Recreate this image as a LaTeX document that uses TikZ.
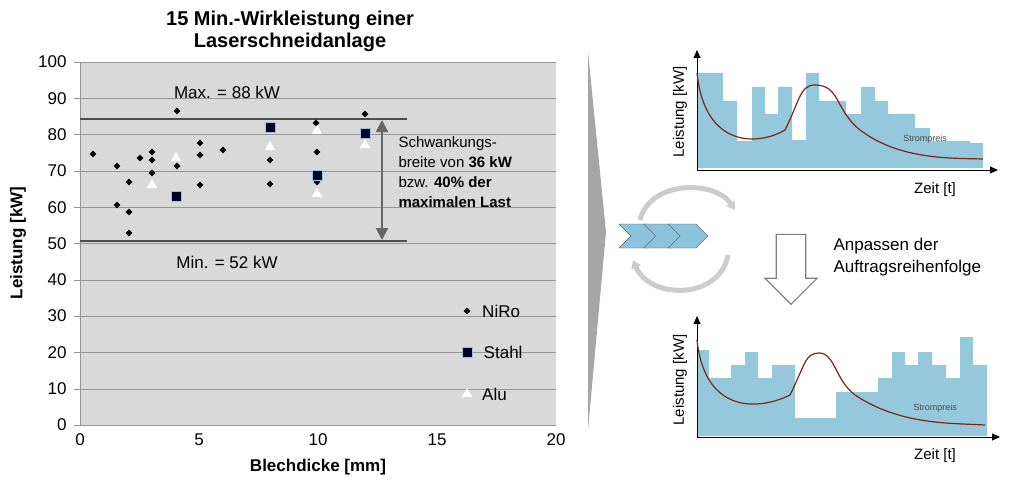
\documentclass[tikz,border=0pt]{standalone}
\usepackage{fontspec}
\setmainfont{Liberation Sans}
\usepackage{tikz}
\usetikzlibrary{arrows.meta,shapes.geometric,shapes.symbols,shapes.arrows,positioning}
\definecolor{plotgray}{RGB}{217,217,217}
\definecolor{gridgray}{RGB}{150,150,150}
\definecolor{barblue}{RGB}{150,200,220}
\definecolor{pricebrown}{RGB}{120,40,20}
\definecolor{chevblue}{RGB}{140,195,220}
\tikzset{
  niro/.style={diamond,fill=black,inner sep=0pt,minimum size=7pt},
  stahl/.style={rectangle,fill=black!85!blue,draw=barblue,inner sep=0pt,minimum size=10pt},
  alu/.style={isosceles triangle,isosceles triangle apex angle=60,shape border rotate=90,fill=white,inner sep=0pt,minimum size=9pt},
  tick/.style={font=\fontsize{17}{17}\selectfont},
  chev/.style={signal,signal to=east,signal from=west,fill=chevblue,draw=gray!70!black,minimum width=40pt,minimum height=24pt,inner sep=0pt},
  cyc/.style={-{Triangle[width=10pt,length=8pt]},line width=5pt,draw=gray!40}
}
\begin{document}
\begin{tikzpicture}[x=1pt,y=-1pt]
  \useasboundingbox (0,0) rectangle (1024,492);
  % scatter chart
  \fill[plotgray] (80,62) rectangle (556,425);
  \foreach \v in {0,10,...,100}
    \draw[gridgray] (74,{425-3.63*\v}) -- (556,{425-3.63*\v});
  \foreach \v in {0,10,...,100}
    \node[tick,anchor=east] at (70,{425-3.63*\v}) {\v};
  \foreach \v in {0,5,10,15,20}
    \node[tick,anchor=north] at ({80+23.8*\v},430) {\v};
  \draw[gridgray] (80,62) -- (80,425);
  \node[font=\bfseries\fontsize{20}{22}\selectfont,align=center] (title) at (290,31) {15 Min.-Wirkleistung einer\\Laserschneidanlage};
  \node[font=\bfseries\fontsize{17}{17}\selectfont] (xlab) at (318,467) {Blechdicke [mm]};
  \node[font=\bfseries\fontsize{17}{17}\selectfont,rotate=90] (ylab) at (18,243) {Leistung [kW]};
  % max / min
  \coordinate (maxl) at (80,119);
  \coordinate (maxr) at (407,119);
  \coordinate (minl) at (80,241);
  \coordinate (minr) at (407,241);
  \draw[black!70,line width=1.5pt] (maxl) -- (maxr);
  \draw[black!70,line width=1.5pt] (minl) -- (minr);
  \node[tick] (maxt) at (227,92) {Max. = 88 kW};
  \node[tick] (mint) at (227,262) {Min. = 52 kW};
  \coordinate (ar1) at (382,120);
  \coordinate (ar2) at (382,240);
  \draw[{Triangle[width=12pt,length=12pt]}-{Triangle[width=12pt,length=12pt]},black!60,line width=2pt] (ar1) -- (ar2);
  \node[anchor=west,align=left,font=\fontsize{15}{20}\selectfont] (schw) at (395,172)
    {Schwankungs-\\breite von \textbf{36 kW}\\bzw. \textbf{40\% der}\\\textbf{maximalen Last}};
  % data
  \foreach \x/\y in {93/154,117/166,129/182,140/158,152/152,152/160,152/173,177/111,200/143,200/155,200/185,
      223/150,270/160,270/184,117/205,129/212,129/233,316/123,317/152,317/182,365/114,177/166}
    \node[niro] at (\x,\y) {};
  \foreach \x/\y in {152/185,176/158,270/147,317/131,317/194,365/145}
    \node[alu] at (\x,\y) {};
  \foreach \x/\y in {176/196,270/127,317/175,365/133}
    \node[stahl] at (\x,\y) {};
  % legend
  \node[niro] (ln) at (467,311) {};
  \node[tick,right=8pt of ln] {NiRo};
  \node[stahl] (ls) at (467,352) {};
  \node[tick,right=8pt of ls] {Stahl};
  \node[alu] (la) at (467,394) {};
  \node[tick,right=8pt of la] {Alu};
  % divider
  \fill[gray!70] (588,52) -- (606,232) -- (588,430) -- cycle;
  % top chart
  \fill[barblue] (697,168) -- (697,73) -- (723,73) -- (723,101) -- (737,101) -- (737,141) -- (752,141)
    -- (752,87) -- (765,87) -- (765,114) -- (778,114) -- (778,87) -- (792,87) -- (792,140) -- (806,140)
    -- (806,73) -- (819,73) -- (819,101) -- (846,101) -- (846,114) -- (861,114) -- (861,87) -- (875,87)
    -- (875,101) -- (888,101) -- (888,114) -- (915,114) -- (915,128) -- (930,128) -- (930,141)
    -- (970,141) -- (970,143) -- (983,143) -- (983,168) -- cycle;
  \coordinate (o1) at (697,170);
  \coordinate (y1) at (697,50);
  \coordinate (x1) at (998,170);
  \draw[-{Triangle[width=7pt,length=8pt]},thick] (o1) -- (y1);
  \draw[-{Triangle[width=7pt,length=8pt]},thick] (o1) -- (x1);
  \draw[pricebrown,line width=1.2pt] (697,73) .. controls (705,150) and (760,145) .. (785,130)
    .. controls (800,100) and (800,85) .. (815,85) .. controls (840,85) and (835,110) .. (860,130)
    .. controls (900,160) and (950,158) .. (983,159);
  \node[font=\fontsize{9}{9}\selectfont,text=black!70] (sp1) at (925,139) {Strompreis};
  \node[rotate=90,font=\fontsize{15}{15}\selectfont] (yl1) at (680,112) {Leistung [kW]};
  \node[font=\fontsize{15}{15}\selectfont] (xl1) at (935,190) {Zeit [t]};
  % bottom chart
  \fill[barblue] (697,436) -- (697,350) -- (709,350) -- (709,378) -- (731,378) -- (731,365) -- (745,365)
    -- (745,352) -- (758,352) -- (758,378) -- (772,378) -- (772,365) -- (795,365) -- (795,418)
    -- (836,418) -- (836,392) -- (878,392) -- (878,378) -- (892,378) -- (892,352) -- (905,352)
    -- (905,365) -- (918,365) -- (918,352) -- (932,352) -- (932,365) -- (946,365) -- (946,378)
    -- (960,378) -- (960,337) -- (973,337) -- (973,365) -- (987,365) -- (987,436) -- cycle;
  \coordinate (o2) at (697,437);
  \coordinate (y2) at (697,316);
  \coordinate (x2) at (1000,437);
  \draw[-{Triangle[width=7pt,length=8pt]},thick] (o2) -- (y2);
  \draw[-{Triangle[width=7pt,length=8pt]},thick] (o2) -- (x2);
  \draw[pricebrown,line width=1.2pt] (697,340) .. controls (705,415) and (760,410) .. (790,395)
    .. controls (805,365) and (805,353) .. (819,353) .. controls (835,353) and (835,380) .. (855,395)
    .. controls (900,425) and (950,423) .. (985,425);
  \node[font=\fontsize{9}{9}\selectfont,text=black!70] (sp2) at (935,408) {Strompreis};
  \node[rotate=90,font=\fontsize{15}{15}\selectfont] (yl2) at (680,380) {Leistung [kW]};
  \node[font=\fontsize{15}{15}\selectfont] (xl2) at (935,456) {Zeit [t]};
  % process chevrons
  \node[chev] (c1) at (639,236) {};
  \node[chev,right=-4pt of c1] (c2) {};
  \node[chev,right=-4pt of c2] (c3) {};
  \coordinate (ca) at (640,220);
  \coordinate (cb) at (735,210);
  \coordinate (cc) at (728,255);
  \coordinate (cd) at (633,260);
  \draw[cyc] (ca) .. controls (650,180) and (715,180) .. (cb);
  \draw[cyc] (cc) .. controls (720,300) and (650,300) .. (cd);
  % reorder arrow
  \node[single arrow,shape border rotate=270,draw=gray,line width=1.2pt,fill=white,
    minimum width=52pt,single arrow head extend=2pt,single arrow head indent=0pt,
    minimum height=70pt,inner sep=2pt] (down) at (791,262) {};
  \node[anchor=west,align=left,font=\fontsize{17}{22}\selectfont] (anp) at (830,257) {Anpassen der\\Auftragsreihenfolge};
\end{tikzpicture}
\end{document}
